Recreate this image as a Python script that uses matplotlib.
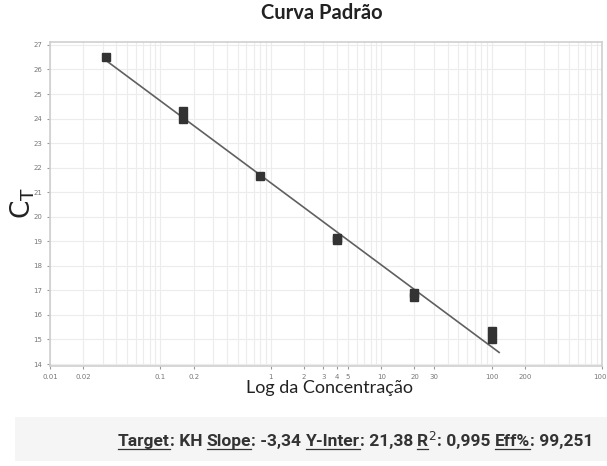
import matplotlib
matplotlib.use('Agg')
import matplotlib.pyplot as plt
import numpy as np
from matplotlib.lines import Line2D

# standard curve data (concentration, Ct)
conc = [0.032, 0.16, 0.16, 0.8, 4, 4, 20, 20, 100, 100]
ct = [26.5, 24.3, 24.0, 21.65, 19.15, 19.05, 16.9, 16.75, 15.35, 15.0]

slope = -3.34
intercept = 21.38
fit_range = [0.032, 117]

xtick_vals = [0.01, 0.02, 0.1, 0.2, 1, 2, 3, 4, 5, 10, 20, 30, 100, 200, 1000]
xtick_labels = ['0.01', '0.02', '0.1', '0.2', '1', '2', '3', '4', '5', '10', '20', '30', '100', '200', '1000']
ytick_vals = list(range(14, 28))

summary = [('Target', True), (': KH ', False), ('Slope', True), (': -3,34 ', False),
           ('Y-Inter', True), (': 21,38 ', False), ('R', True), ('$^2$', False),
           (': 0,995 ', False), ('Eff%', True), (': 99,251', False)]

fig = plt.figure(figsize=(6.07, 4.66), dpi=100)
ax = fig.add_axes([0.0824, 0.2146, 0.9094, 0.6953])

ax.set_xscale('log')
ax.set_xlim(0.01, 912)
ax.set_ylim(13.92, 27.12)

ax.grid(True, which='both', color='#ececec', linewidth=0.8)
ax.set_axisbelow(True)

fx = np.array(fit_range)
ax.plot(fx, intercept + slope * np.log10(fx), color='#606060', linewidth=1.2, zorder=2)
ax.plot(conc, ct, linestyle='none', marker='s', markersize=5.5, color='#333333', zorder=3)

ax.set_xticks(xtick_vals)
ax.set_xticklabels(xtick_labels)
ax.xaxis.set_minor_formatter(plt.NullFormatter())
ax.set_yticks(ytick_vals)
ax.tick_params(axis='both', which='major', labelsize=5, colors='#999999', length=2, labelcolor='#777777')
ax.tick_params(axis='x', which='minor', length=0)
for s in ax.spines.values():
    s.set_color('#cfcfcf')
    s.set_linewidth(1.2)

fig.text(0.53, 0.972, 'Curva Padrão', ha='center', va='center', fontsize=14.5,
         fontweight='bold', family='Lato', color='#222222')
fig.text(0.543, 0.167, 'Log da Concentração', ha='center', va='center', fontsize=13,
         family='Lato', color='#222222')
fig.text(0.038, 0.565, r'$\mathregular{C_T}$', ha='center', va='center', fontsize=19,
         rotation=90, color='#222222')

# bottom summary band
fig.patches.append(plt.Rectangle((0.025, 0.01), 0.975, 0.095, transform=fig.transFigure,
                                 facecolor='#f5f5f5', edgecolor='none', zorder=0))

renderer = fig.canvas.get_renderer()
x = 118
y = 466 - 446
for txt, under in summary:
    t = fig.text(x / 607, y / 466, txt, ha='left', va='baseline', fontsize=12.5,
                 fontweight='bold', family='Roboto', color='#333333')
    bb = t.get_window_extent(renderer)
    if under:
        fig.add_artist(Line2D([bb.x0 / 607, bb.x1 / 607], [(y - 2.5) / 466] * 2,
                              transform=fig.transFigure, color='#333333', linewidth=0.9))
    x = bb.x1

fig.savefig('out.png', dpi=100)
